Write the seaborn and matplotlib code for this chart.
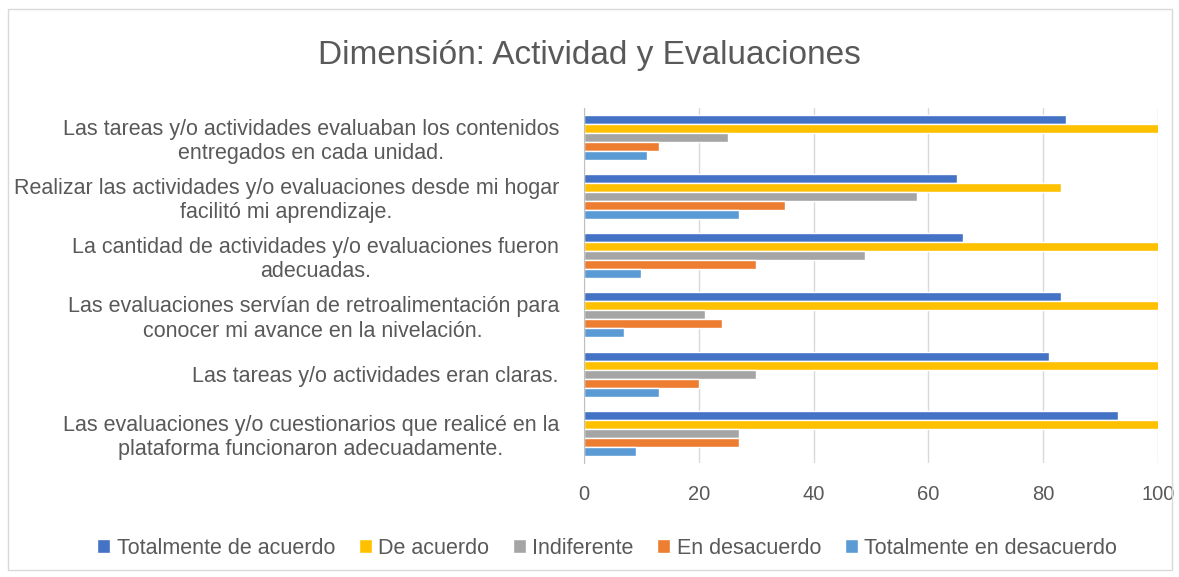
import pandas as pd
import seaborn as sns
import matplotlib.pyplot as plt
from matplotlib.patches import Rectangle

# preguntas (de arriba hacia abajo)
preguntas = [
    "Las tareas y/o actividades evaluaban los contenidos\nentregados en cada unidad.",
    "Realizar las actividades y/o evaluaciones desde mi hogar\nfacilitó mi aprendizaje.",
    "La cantidad de actividades y/o evaluaciones fueron\nadecuadas.",
    "Las evaluaciones servían de retroalimentación para\nconocer mi avance en la nivelación.",
    "Las tareas y/o actividades eran claras.",
    "Las evaluaciones y/o cuestionarios que realicé en la\nplataforma funcionaron adecuadamente.",
]
series = ["Totalmente de acuerdo", "De acuerdo", "Indiferente",
          "En desacuerdo", "Totalmente en desacuerdo"]

totalmente_de_acuerdo = [84, 65, 66, 83, 81, 93]
de_acuerdo = [118, 83, 112, 115, 120, 110]  # se salen del eje (>100)
indiferente = [25, 58, 49, 21, 30, 27]
en_desacuerdo = [13, 35, 30, 24, 20, 27]
totalmente_en_desacuerdo = [11, 27, 10, 7, 13, 9]

colores = ["#4472C4", "#FFC000", "#A5A5A5", "#ED7D31", "#5B9BD5"]

valores = [totalmente_de_acuerdo, de_acuerdo, indiferente,
           en_desacuerdo, totalmente_en_desacuerdo]
rows = []
for s, vals in zip(series, valores):
    for p, v in zip(preguntas, vals):
        rows.append({"pregunta": p, "serie": s, "valor": v})
df = pd.DataFrame(rows)

sns.set_style("white")
plt.rcParams['font.family'] = ['Liberation Sans', 'DejaVu Sans']

fig = plt.figure(figsize=(11.79, 5.77), dpi=100)
ax = fig.add_axes([0.4953, 0.198, 0.487, 0.615])

sns.barplot(data=df, y="pregunta", x="valor", hue="serie", order=preguntas,
            hue_order=series, palette=colores, orient="h", width=0.76,
            saturation=1, ax=ax, legend=True)

ax.set_xlim(0, 100)
ax.set_xticks(range(0, 101, 20))
ax.set_xlabel("")
ax.set_ylabel("")
ax.grid(axis="x", color="#D9D9D9", linewidth=1)
ax.set_axisbelow(True)
for side in ["top", "right", "bottom"]:
    ax.spines[side].set_visible(False)
ax.spines["left"].set_color("#BFBFBF")
ax.tick_params(axis="both", length=0, colors="#595959")
ax.tick_params(axis="x", pad=16, labelsize=14.5)
ax.tick_params(axis="y", pad=18, labelsize=15.5)
for lbl in ax.get_yticklabels():
    lbl.set_multialignment("center")

ax.legend(loc="center", bbox_to_anchor=(0.515, 0.05), bbox_transform=fig.transFigure,
          ncol=5, frameon=False, fontsize=15.5, handlelength=0.6, handleheight=0.6,
          handletextpad=0.3, columnspacing=1.1, labelcolor="#595959")

fig.text(0.5, 0.903, "Dimensión: Actividad y Evaluaciones", ha="center", va="center",
         fontsize=24, color="#595959")

fig.patches.append(Rectangle((0.007, 0.012), 0.987, 0.972, transform=fig.transFigure,
                             fill=False, edgecolor="#D9D9D9", linewidth=1))

fig.savefig("out.png", dpi=100)
